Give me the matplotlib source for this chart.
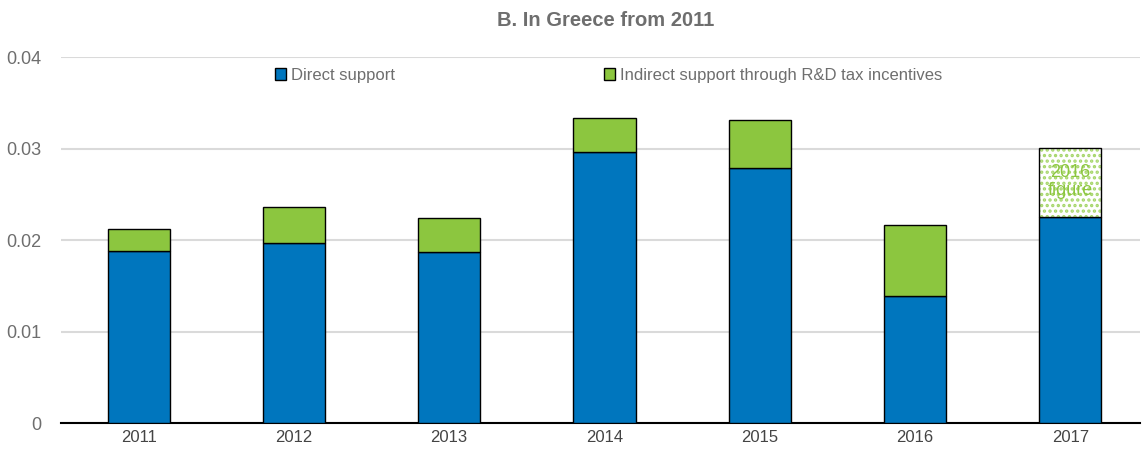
import matplotlib.pyplot as plt
from matplotlib.patches import Patch
import numpy as np

years = ["2011", "2012", "2013", "2014", "2015", "2016", "2017"]
direct = [0.0188, 0.0197, 0.0187, 0.0296, 0.0279, 0.0139, 0.0225]
indirect = [0.0024, 0.0039, 0.0037, 0.0038, 0.0052, 0.0077, 0.0076]

blue = "#0076BE"
green = "#8CC63F"
grey_text = "#6E6E6E"

plt.rcParams["font.family"] = ["Liberation Sans", "DejaVu Sans"]
plt.rcParams["hatch.linewidth"] = 1.6

fig = plt.figure(figsize=(11.42, 4.5), dpi=100)
ax = fig.add_axes([0.0534, 0.06, 0.945, 0.813])

x = np.arange(len(years))
ax.bar(x, direct, width=0.4, color=blue, edgecolor="black", linewidth=1, zorder=3)
# last bar uses 2016 figure for indirect support, drawn dotted
ax.bar(x[:-1], indirect[:-1], bottom=direct[:-1], width=0.4, color=green,
       edgecolor="black", linewidth=1, zorder=3)
ax.bar(x[-1:], indirect[-1:], bottom=direct[-1:], width=0.4, color="white",
       edgecolor="#A6D66A", hatch="...", linewidth=0, zorder=3)
ax.bar(x[-1:], indirect[-1:], bottom=direct[-1:], width=0.4, fill=False,
       edgecolor="black", linewidth=1, zorder=4)
ax.text(x[-1], direct[-1] + indirect[-1] / 2 + 0.0001, "2016\nfigure", ha="center", va="center",
        color=green, fontsize=13, zorder=5, linespacing=1.05)

ax.set_xlim(-0.5, 6.45)
ax.set_ylim(0, 0.04)
ax.set_yticks([0, 0.01, 0.02, 0.03, 0.04])
ax.set_yticklabels(["0", "0.01", "0.02", "0.03", "0.04"])
ax.set_xticks(x)
ax.set_xticklabels(years)
ax.tick_params(axis="y", length=0, labelsize=13, colors=grey_text, pad=14)
ax.tick_params(axis="x", length=0, labelsize=12, colors="#444444", pad=5)
ax.grid(axis="y", color="#DADADA", linewidth=1.5, zorder=0)
for side in ["top", "right", "left"]:
    ax.spines[side].set_visible(False)
ax.spines["bottom"].set_linewidth(1.5)
ax.spines["bottom"].set_color("black")

fig.text(0.53, 0.955, "B. In Greece from 2011", ha="center", va="center",
         fontsize=14.5, fontweight="bold", color=grey_text)

handles = [Patch(facecolor=blue, edgecolor="black", label="Direct support"),
           Patch(facecolor=green, edgecolor="black",
                 label="Indirect support through R&D tax incentives")]
leg = ax.legend(handles=handles, loc="upper left", bbox_to_anchor=(0.184, 1.012), ncol=2,
                frameon=False, fontsize=12, handlelength=0.7, handleheight=0.7,
                handletextpad=0.3, columnspacing=12.5)
for t in leg.get_texts():
    t.set_color(grey_text)

fig.savefig("out.png", dpi=100)
